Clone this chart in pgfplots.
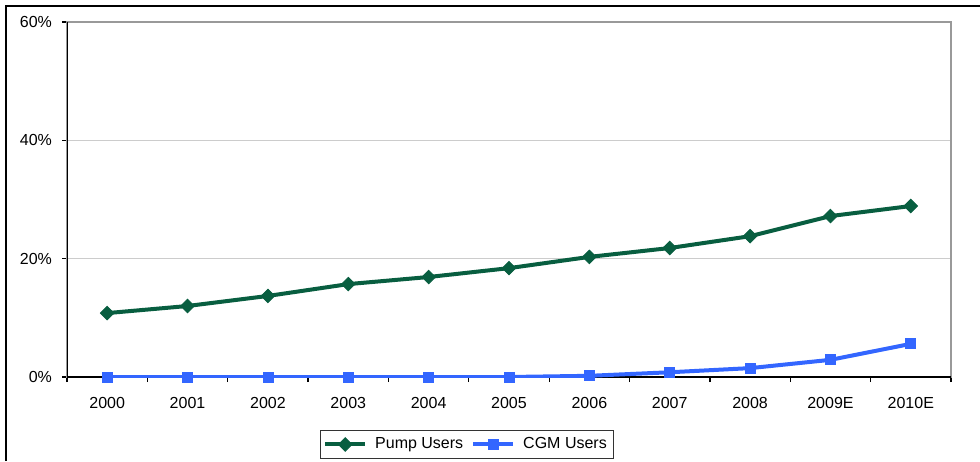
\documentclass[border=0pt]{standalone}
\usepackage{pgfplots}
\pgfplotsset{compat=1.18}
\usepackage{fontspec}
\setmainfont{Liberation Sans}
\definecolor{pumpgreen}{RGB}{8,94,64}
\definecolor{cgmblue}{RGB}{51,102,255}
\begin{document}
\begin{tikzpicture}
\begin{axis}[
  at={(0,0)}, anchor=south west,
  scale only axis, width=442pt, height=177.5pt,
  xmin=-0.5, xmax=10.5, ymin=0, ymax=60,
  xtick={0,...,10},
  xticklabels={2000,2001,2002,2003,2004,2005,2006,2007,2008,2009E,2010E},
  minor xtick={-0.5,0.5,...,10.5},
  ytick={0,20,40,60},
  yticklabel={\pgfmathprintnumber{\tick}\%},
  /pgf/number format/assume math mode=true,
  tick pos=left, tick align=outside,
  major tick length=2.5pt, minor tick length=2.5pt,
  x tick style={draw=none}, minor x tick style={draw=black, line width=0.6pt},
  y tick style={draw=black, line width=0.6pt},
  xticklabel style={yshift=-4pt},
  yticklabel style={xshift=-1.5pt},
  ymajorgrids, grid style={gray!40, line width=0.6pt},
  axis line style={gray!80, line width=0.8pt},
  tick label style={font=\fontsize{8}{9.6}\selectfont},
  legend style={at={(0.4525,-0.19)}, anchor=center, legend columns=2,
    draw=black!80, line width=0.5pt, font=\fontsize{8}{9.6}\selectfont,
    inner sep=1.5pt, column sep=2pt},
  legend image code/.code={\draw[mark repeat=2, mark phase=2] plot coordinates {(0pt,0pt) (10pt,0pt) (20pt,0pt)};},
]
\draw[black, line width=0.8pt] (rel axis cs:0,1) -- (rel axis cs:0,0) -- (rel axis cs:1,0);
\addplot[pumpgreen, line width=2pt, mark=square*, mark size=2.4pt, mark options={rotate=45, solid, line width=0.4pt}]
  coordinates {(0,10.8) (1,12.0) (2,13.7) (3,15.7) (4,16.9) (5,18.4) (6,20.3) (7,21.8) (8,23.8) (9,27.2) (10,28.9)};
\addlegendentry{Pump Users}
\addplot[cgmblue, line width=2pt, mark=square*, mark size=2.5pt, mark options={solid, line width=0.4pt}]
  coordinates {(0,0) (1,0) (2,0) (3,0) (4,0) (5,0) (6,0.2) (7,0.8) (8,1.5) (9,2.9) (10,5.6)};
\addlegendentry{CGM Users}
\end{axis}
\draw[black, line width=1pt] (-30.5pt,-42pt) -- (-30.5pt,185.5pt) -- (456.5pt,185.5pt);
\pgfresetboundingbox
\path[use as bounding box] (-33.5pt,-42pt) rectangle (456.5pt,188.5pt);
\end{tikzpicture}
\end{document}
